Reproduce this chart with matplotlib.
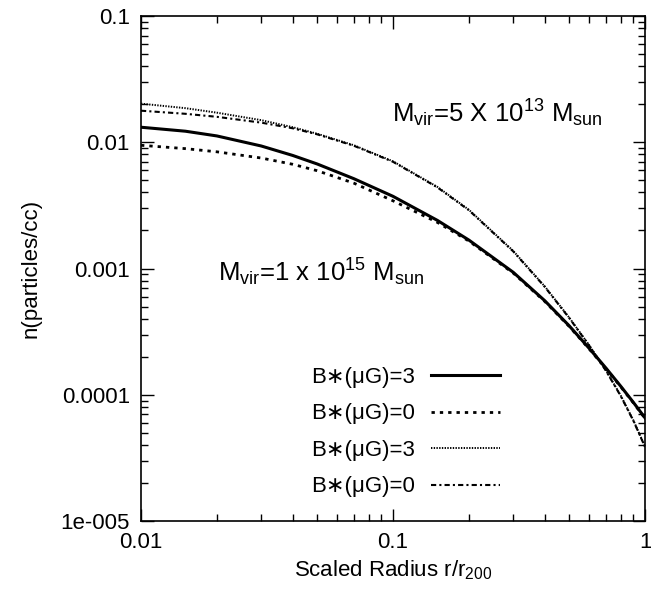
import matplotlib.pyplot as plt

plt.rcParams['font.family'] = ['Liberation Sans', 'DejaVu Sans']
plt.rcParams['mathtext.fontset'] = 'custom'
plt.rcParams['mathtext.rm'] = 'Liberation Sans'
plt.rcParams['mathtext.it'] = 'Liberation Sans'

# scaled radius r/r200
radius = [0.01, 0.015, 0.02, 0.03, 0.04, 0.05, 0.07, 0.1, 0.15, 0.2,
          0.3, 0.4, 0.5, 0.6, 0.7, 0.8, 0.9, 1.0]

# Mvir = 1e15 Msun
n_big_b3 = [0.01315, 0.01223, 0.01122, 0.00934, 0.00786, 0.00673, 0.00514, 0.00373, 0.002405, 0.00168,
            0.000933, 0.000556, 0.000352, 0.0002335, 0.0001626, 0.0001172, 8.68e-5, 6.56e-5]
n_big_b0 = [0.00946, 0.00890, 0.00840, 0.00750, 0.00669, 0.00595, 0.00474, 0.003437, 0.002319, 0.00165,
            0.000920, 0.000549, 0.000348, 0.000231, 0.000161, 0.000116, 8.6e-5, 6.5e-5]
# Mvir = 5e13 Msun
n_small_b3 = [0.02022, 0.01862, 0.01715, 0.01496, 0.01316, 0.01168, 0.00946, 0.00706, 0.004428, 0.002919,
              0.001378, 0.000722, 0.000409, 0.0002474, 0.0001559, 9.9e-5, 6.25e-5, 3.89e-5]
n_small_b0 = [0.01778, 0.01680, 0.01590, 0.01430, 0.01290, 0.01156, 0.00937, 0.00700, 0.004390, 0.002895,
              0.001366, 0.000716, 0.000406, 0.0002455, 0.0001547, 9.82e-5, 6.2e-5, 3.86e-5]

labels = ['B\u2217(\u03bcG)=3', 'B\u2217(\u03bcG)=0', 'B\u2217(\u03bcG)=3', 'B\u2217(\u03bcG)=0']

fig = plt.figure(figsize=(6.51, 5.99), dpi=100)
ax = fig.add_axes([0.2166, 0.1302, 0.7742, 0.8431])

ax.plot(radius, n_big_b3, color='black', lw=2.2, ls='-', label=labels[0])
ax.plot(radius, n_big_b0, color='black', lw=2.0, ls=(0, (1.2, 1.8)), label=labels[1])
ax.plot(radius, n_small_b3, color='black', lw=1.4, ls=(0, (0.7, 0.7)), label=labels[2])
ax.plot(radius, n_small_b0, color='black', lw=1.5, ls=(0, (2.5, 1.5, 1, 1.5)), label=labels[3])

ax.set_xscale('log')
ax.set_yscale('log')
ax.set_xlim(0.01, 1)
ax.set_ylim(1e-5, 0.1)
ax.set_xticks([0.01, 0.1, 1])
ax.set_xticklabels(['0.01', '0.1', '1'])
ax.set_yticks([1e-5, 1e-4, 1e-3, 1e-2, 1e-1])
ax.set_yticklabels(['1e-005', '0.0001', '0.001', '0.01', '0.1'])
ax.tick_params(which='both', direction='in', top=True, right=True, labelsize=16, width=1)
ax.tick_params(which='major', length=9, pad=8)
ax.tick_params(which='minor', length=5)
for s in ax.spines.values():
    s.set_linewidth(1.2)

ax.set_xlabel('Scaled Radius r/r$_{200}$', fontsize=16, labelpad=4)
ax.set_ylabel('n(particles/cc)', fontsize=16, labelpad=14)

ax.text(0.099, 0.017, 'M$_{vir}$=5 X 10$^{13}$ M$_{sun}$', fontsize=18.5, va='center')
ax.text(0.0203, 0.00093, 'M$_{vir}$=1 x 10$^{15}$ M$_{sun}$', fontsize=18.5, va='center')

ax.legend(loc='center', bbox_to_anchor=(0.525, 0.176), frameon=False, markerfirst=False,
          fontsize=16, handlelength=3.1, labelspacing=0.7, handletextpad=0.7)

fig.savefig('out.png', dpi=100)
